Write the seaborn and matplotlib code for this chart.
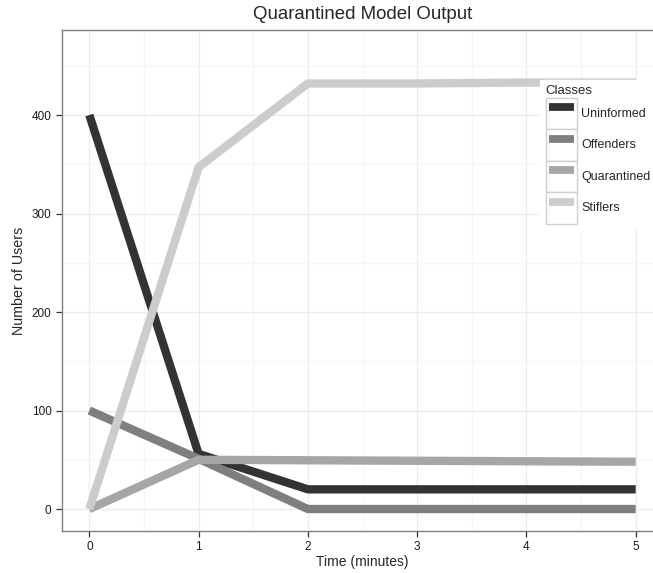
import matplotlib
matplotlib.use("Agg")
import matplotlib.pyplot as plt
from matplotlib.legend_handler import HandlerLine2D
from matplotlib.patches import Rectangle
from matplotlib.ticker import MultipleLocator
import seaborn as sns
import pandas as pd

# data
time_min = [0, 1, 2, 3, 4, 5]
uninformed = [400, 56, 20, 20, 20, 20]
offenders = [100, 51, 0, 0, 0, 0]
quarantined = [0, 50, 49.5, 49, 48.5, 48]
stiflers = [0, 347, 432, 432, 433, 433]

classes = ["Uninformed", "Offenders", "Quarantined", "Stiflers"]
colors = ["#333333", "#7f7f7f", "#a6a6a6", "#cccccc"]

df = pd.DataFrame({
    "time": time_min * 4,
    "users": uninformed + offenders + quarantined + stiflers,
    "cls": [c for c in classes for _ in time_min],
})


class BoxedLine(HandlerLine2D):
    # ggplot style legend key: bordered square with a short thick bar inside
    def create_artists(self, legend, orig, xdescent, ydescent, width, height, fontsize, trans):
        box = Rectangle((-xdescent, -ydescent), width, height, facecolor="white",
                        edgecolor="#d0d0d0", lw=1, transform=trans)
        inset = width * 0.1
        artists = super().create_artists(legend, orig, xdescent - inset, ydescent,
                                         width - 2 * inset, height, fontsize, trans)
        return [box] + artists


sns.set_style("white")
plt.rcParams["font.family"] = ["Liberation Sans", "DejaVu Sans"]

fig = plt.figure(figsize=(6.53, 5.73), dpi=100)
ax = fig.add_axes([62 / 653, 42 / 573, 601 / 653, 501 / 573])

sns.lineplot(data=df, x="time", y="users", hue="cls", hue_order=classes,
             palette=colors, lw=6, ax=ax, legend=False, sort=False,
             solid_capstyle="butt", solid_joinstyle="round")

ax.set_xlim(-0.25, 5.25)
ax.set_ylim(-22.3, 486.3)
ax.xaxis.set_major_locator(MultipleLocator(1))
ax.xaxis.set_minor_locator(MultipleLocator(0.5))
ax.yaxis.set_minor_locator(MultipleLocator(50))
ax.set_yticks([0, 100, 200, 300, 400])
ax.grid(which="major", color="#ebebeb", lw=0.9)
ax.grid(which="minor", color="#f6f6f6", lw=0.9)
ax.set_axisbelow(True)
for s in ax.spines.values():
    s.set_color("#808080")
    s.set_linewidth(1.0)
ax.tick_params(which="major", direction="out", length=4, width=0.9, color="#333333",
               labelsize=8.5, labelcolor="#1a1a1a", bottom=True, left=True, pad=3.5)
ax.tick_params(which="minor", length=0)

ax.set_xlabel("Time (minutes)", fontsize=10, labelpad=1)
ax.set_ylabel("Number of Users", fontsize=10.3, labelpad=4)
ax.set_title("Quarantined Model Output", fontsize=13.4, pad=8)

handles = [plt.Line2D([], [], color=c, lw=5.6, solid_capstyle="butt") for c in colors]
leg = fig.legend(handles, classes, title="Classes", loc="upper left",
                 bbox_to_anchor=(540 / 653, 1 - 80 / 573), frameon=True, fontsize=9,
                 title_fontsize=9.5, handlelength=2.53, handleheight=3.5,
                 labelspacing=0, handletextpad=0.32, borderpad=0.44,
                 borderaxespad=0, handler_map={plt.Line2D: BoxedLine()})
leg.get_frame().set_edgecolor("white")
leg.get_frame().set_facecolor("white")
leg.get_frame().set_alpha(1)
leg.get_frame().set_boxstyle("square", pad=0)
leg._legend_box.align = "left"

fig.savefig("out.png", dpi=100)
